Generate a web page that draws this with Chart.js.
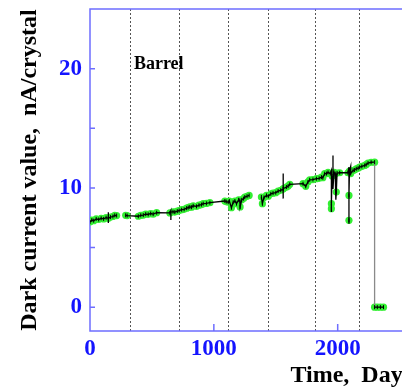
<!DOCTYPE html>
<html>
<head>
<meta charset="utf-8">
<script src="https://cdn.jsdelivr.net/npm/chart.js@4"></script>
<style>
  html, body { margin: 0; padding: 0; background: #fff; overflow: hidden; }
  canvas { display: block; }
</style>
</head>
<body>
<canvas id="darkChart" width="440" height="390"></canvas>
<script>
// Barrel dark current vs time (days). null = gap in the record
const days = [
  0, 15, 30, 50, 70, 90, 110, 130, 148, 148, 148, 148, 165, 185, 200, 215, 250,
  288, 300, 390, 410, 430, 450, 470, 490, 510, 538, 645, 653, 653, 653, 670, 685, 705, 720,
  740, 760, 780, 793, 806, 820, 833, 860, 880, 900, 914, 940, 968, 1089, 1100, 1116, 1125,
  1142, 1156, 1170, 1183, 1200, 1210, 1212, 1225, 1240, 1250, 1268, 1285, 1330,
  1384, 1392, 1405, 1425, 1440, 1460, 1478, 1500, 1519, 1540, 1559, 1559, 1559, 1562, 1586,
  1600, 1613, 1720, 1742, 1760, 1774, 1800, 1828, 1850, 1869, 1880, 1895, 1910, 1922, 1940,
  1949, 1949, 1949, 1949, 1955, 1962, 1962, 1970, 1980, 1985, 1989, 1995, 2016, 2083,
  2091, 2091, 2091, 2091, 2095, 2105, 2105, 2124, 2135, 2150, 2165, 2177, 2195, 2218, 2230,
  2245, 2270, 2298, 2298, 2320, 2345, 2370
];
const current = [
  7.14, 7.3, 7.25, 7.4, 7.35, 7.45, 7.4, 7.5, 7.45, 7.95, 7.05, 7.45, 7.55, 7.6, 7.7, 7.68, null,
  7.7, 7.68, 7.62, 7.7, 7.72, 7.8, 7.78, 7.85, 7.8, 7.92, 7.9, 8.1, 7.3, 7.95, 8.0, 7.97, 8.05, 8.1,
  8.17, 8.2, 8.3, 8.35, 8.4, 8.38, 8.5, 8.45, 8.55, 8.6, 8.68, 8.7, 8.76, 8.9, 8.85, 8.8, 8.9,
  8.34, 8.8, 8.9, 8.68, 9.0, 8.95, 8.4, 9.0, 9.1, 9.23, 9.3, 9.37, null,
  9.23, 8.68, 9.2, 9.37, 9.3, 9.5, 9.56, 9.6, 9.73, 9.8, 9.9, 11.2, 9.1, 9.95, 10.07,
  10.15, 10.3, 10.35, 10.13, 10.5, 10.68, 10.7, 10.77, 10.8, 10.9, 10.85, 11.19, 11.2, 11.3, 11.2,
  11.46, 7.97, 8.26, 8.68, 11.0, 12.72, 9.9, 11.3, 11.2, 9.0, 9.65, 11.25, 11.27, 11.27,
  11.74, 7.0, 7.28, 9.37, 11.4, 11.8, 11.2, 11.46, 11.5, 11.6, 11.65, 11.74, 11.8, 11.88, 11.95,
  12.08, 12.15, 12.16, 0, 0, 0, 0
];
// 1 = green marker drawn, 0 = excursion tip only
const marked = [
  1, 1, 1, 1, 1, 1, 1, 1, 1, 0, 0, 0, 1, 1, 1, 1, 0,
  1, 1, 1, 1, 1, 1, 1, 1, 1, 1, 1, 0, 0, 0, 1, 1, 1, 1,
  1, 1, 1, 1, 1, 1, 1, 1, 1, 1, 1, 1, 1, 1, 1, 1, 1,
  1, 1, 1, 1, 1, 1, 1, 1, 1, 1, 1, 1, 0,
  1, 1, 1, 1, 1, 1, 1, 1, 1, 1, 1, 0, 0, 1, 1,
  1, 1, 1, 1, 1, 1, 1, 1, 1, 1, 1, 1, 1, 1, 1,
  0, 0, 1, 1, 1, 0, 0, 1, 1, 0, 1, 1, 1, 1,
  0, 0, 1, 1, 1, 0, 1, 1, 1, 1, 1, 1, 1, 1, 1,
  1, 1, 1, 1, 1, 1, 1
];
// run period boundaries (dashed lines)
const boundaries = [320, 720, 1118, 1441, 1815, 2172];
const xTicks = [0, 1000, 2000];
const yTicks = [0, 10, 20];
const yMinorTicks = [5, 15];

const axisBlue = "#6e6eff";
const labelBlue = "#1414ff";
const serif = "'Liberation Serif', 'Times New Roman', serif";

const trace = days.map(function (d, i) {
  return { x: d, y: current[i] };
});
const markers = trace.filter(function (p, i) {
  return marked[i] === 1 && p.y !== null;
});

const framePlugin = {
  id: "frame",
  beforeDatasetsDraw: function (chart) {
    const ctx = chart.ctx;
    const area = chart.chartArea;
    const xs = chart.scales.x;
    const ys = chart.scales.y;
    ctx.save();
    // dashed run boundaries
    ctx.strokeStyle = "#555";
    ctx.lineWidth = 1;
    ctx.setLineDash([2, 2]);
    boundaries.forEach(function (b) {
      const px = Math.round(xs.getPixelForValue(b)) + 0.5;
      ctx.beginPath();
      ctx.moveTo(px, area.top);
      ctx.lineTo(px, area.bottom);
      ctx.stroke();
    });
    ctx.setLineDash([]);
    // frame
    ctx.strokeStyle = axisBlue;
    ctx.lineWidth = 1.5;
    ctx.beginPath();
    ctx.moveTo(area.right + 20, area.top);
    ctx.lineTo(area.left, area.top);
    ctx.lineTo(area.left, area.bottom);
    ctx.lineTo(area.right + 20, area.bottom);
    ctx.stroke();
    // inward ticks
    ctx.beginPath();
    yTicks.concat(yMinorTicks).forEach(function (v) {
      const py = ys.getPixelForValue(v);
      ctx.moveTo(area.left, py);
      ctx.lineTo(area.left + 5, py);
    });
    xTicks.forEach(function (v) {
      if (v === 0) return;
      const px = xs.getPixelForValue(v);
      ctx.moveTo(px, area.bottom);
      ctx.lineTo(px, area.bottom - 7);
    });
    ctx.stroke();
    ctx.restore();
  },
  afterDraw: function (chart) {
    const ctx = chart.ctx;
    ctx.save();
    ctx.font = "bold 18px " + serif;
    ctx.fillStyle = "#000";
    ctx.textBaseline = "alphabetic";
    ctx.fillText("Barrel", chart.scales.x.getPixelForValue(355), chart.scales.y.getPixelForValue(20));
    ctx.restore();
  },
};

new Chart(document.getElementById("darkChart"), {
  type: "scatter",
  data: {
    datasets: [
      {
        data: trace,
        showLine: true,
        spanGaps: false,
        borderColor: "#000",
        borderWidth: 1.3,
        // small vertical error ticks on each measured point
        pointStyle: "line",
        rotation: 90,
        pointRadius: function (c) { return marked[c.dataIndex] ? 2 : 0; },
        pointBorderColor: "#000",
        pointBorderWidth: 1,
        segment: {
          borderColor: function (c) {
            return c.p0.parsed.y - c.p1.parsed.y > 5 ? "#8a8a8a" : "#000";
          },
        },
      },
      {
        data: markers,
        showLine: false,
        pointRadius: 3.6,
        pointBorderWidth: 0,
        backgroundColor: "#33ee33",
      },
    ],
  },
  options: {
    responsive: false,
    animation: false,
    devicePixelRatio: 1,
    layout: { padding: { top: 9, right: 28, left: 0, bottom: 0 } },
    plugins: { legend: { display: false }, tooltip: { enabled: false } },
    scales: {
      x: {
        type: "linear",
        min: 0,
        max: 2600,
        grid: { display: false, drawTicks: false },
        border: { display: false },
        afterBuildTicks: function (scale) {
          scale.ticks = xTicks.map(function (v) { return { value: v }; });
        },
        afterFit: function (scale) {
          scale.height = 59;
          scale.paddingLeft = 0;
          scale.paddingRight = 0;
        },
        ticks: {
          padding: 4,
          maxRotation: 0,
          color: labelBlue,
          font: { family: serif, size: 23, weight: "bold" },
          callback: function (v) { return String(v); },
        },
        title: {
          display: true,
          text: "Time,  Days",
          align: "end",
          color: "#000",
          padding: { top: 0, bottom: 0 },
          font: { family: serif, size: 24, weight: "bold" },
        },
      },
      y: {
        min: -2,
        max: 25,
        grid: { display: false, drawTicks: false },
        border: { display: false },
        afterBuildTicks: function (scale) {
          scale.ticks = yTicks.map(function (v) { return { value: v }; });
        },
        afterFit: function (scale) {
          scale.width = 90;
          scale.paddingTop = 0;
          scale.paddingBottom = 0;
        },
        ticks: {
          padding: 8,
          color: labelBlue,
          font: { family: serif, size: 23, weight: "bold" },
        },
        title: {
          display: true,
          text: "Dark current value,  nA/crystal",
          color: "#000",
          padding: { top: 15, bottom: 0 },
          font: { family: serif, size: 24, weight: "bold" },
        },
      },
    },
  },
  plugins: [framePlugin],
});
</script>
</body>
</html>
